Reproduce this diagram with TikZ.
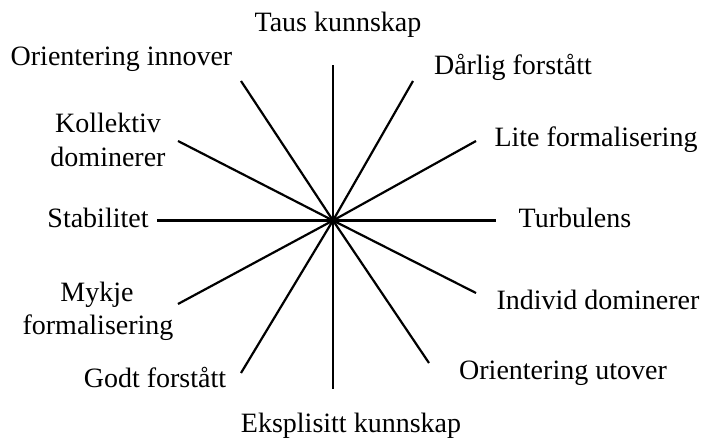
\documentclass[tikz,border=0pt]{standalone}
\usepackage{fontspec}
\setmainfont{Liberation Serif}
\begin{document}
\begin{tikzpicture}[x=1pt,y=1pt,
  lbl/.style={anchor=base,inner sep=0pt,font=\fontsize{28}{34}\selectfont},
  spoke/.style={line width=2.2pt}]
\useasboundingbox (0,0) rectangle (704,441);
\coordinate (c) at (333,220.5);
% spoke ends
\coordinate (n) at (333,376);
\coordinate (s) at (333,52);
\coordinate (w) at (157,220.5);
\coordinate (e) at (496,220.5);
\coordinate (ul) at (241,360);
\coordinate (ur) at (413,360);
\coordinate (kl) at (178,300);
\coordinate (lf) at (476,300);
\coordinate (mf) at (178,137);
\coordinate (id) at (476,148);
\coordinate (gf) at (241,68);
\coordinate (ou) at (429,78);
\foreach \p in {n,s,w,e,ul,ur,kl,lf,mf,id,gf,ou}
  \draw[spoke] (c) -- (\p);
% labels
\node[lbl] (taus) at (338,409) {Taus kunnskap};
\node[lbl] (oi) at (121.5,375) {Orientering innover};
\node[lbl] (df) at (513,366) {Dårlig forstått};
\node[lbl] (kol1) at (108,308) {Kollektiv};
\node[lbl] (kol2) at (108,274) {dominerer};
\node[lbl] (lite) at (596,294) {Lite formalisering};
\node[lbl] (stab) at (98,213) {Stabilitet};
\node[lbl] (turb) at (575,213) {Turbulens};
\node[lbl] (myk1) at (97,139) {Mykje};
\node[lbl] (myk2) at (98,106) {formalisering};
\node[lbl] (ind) at (598,131) {Individ dominerer};
\node[lbl] (godt) at (155,53) {Godt forstått};
\node[lbl] (out) at (563,61) {Orientering utover};
\node[lbl] (eks) at (351,8) {Eksplisitt kunnskap};
\end{tikzpicture}
\end{document}
